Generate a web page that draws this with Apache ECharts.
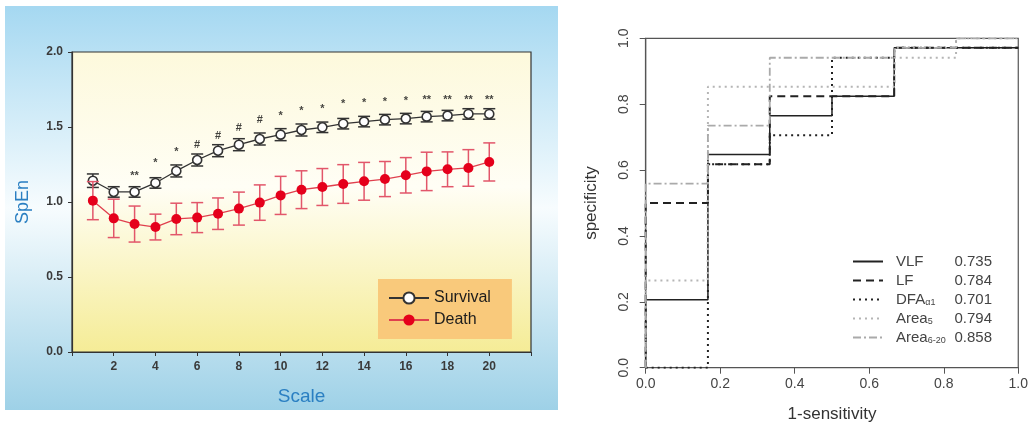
<!DOCTYPE html>
<html>
<head>
<meta charset="utf-8">
<script src="https://cdn.jsdelivr.net/npm/echarts@6/dist/echarts.min.js"></script>
<style>
  html, body { margin: 0; padding: 0; background: #fff; }
  #main { width: 1031px; height: 432px; }
</style>
</head>
<body>
<div id="main"></div>
<script>
// left panel: SpEn by scale
var scales = [1, 2, 3, 4, 5, 6, 7, 8, 9, 10, 11, 12, 13, 14, 15, 16, 17, 18, 19, 20];
var survival = [1.142, 1.067, 1.067, 1.127, 1.207, 1.28, 1.342, 1.382, 1.42, 1.449, 1.48, 1.498, 1.522, 1.536, 1.549, 1.556, 1.569, 1.576, 1.587, 1.587];
var survivalErr = [0.045, 0.035, 0.035, 0.035, 0.04, 0.04, 0.04, 0.04, 0.04, 0.04, 0.04, 0.035, 0.035, 0.035, 0.035, 0.035, 0.035, 0.035, 0.035, 0.035];
var death = [1.009, 0.891, 0.853, 0.833, 0.887, 0.896, 0.922, 0.956, 0.996, 1.044, 1.082, 1.1, 1.12, 1.138, 1.153, 1.178, 1.204, 1.218, 1.227, 1.267];
var deathErr = [0.127, 0.128, 0.12, 0.086, 0.105, 0.1, 0.105, 0.11, 0.118, 0.127, 0.126, 0.123, 0.129, 0.126, 0.117, 0.118, 0.128, 0.116, 0.122, 0.127];
var sigScales = [3, 4, 5, 6, 7, 8, 9, 10, 11, 12, 13, 14, 15, 16, 17, 18, 19, 20];
var sigHeights = [1.196, 1.28, 1.351, 1.4, 1.462, 1.511, 1.567, 1.596, 1.627, 1.642, 1.671, 1.682, 1.687, 1.693, 1.698, 1.702, 1.702, 1.702];
var sigMarks = ['**', '*', '*', '#', '#', '#', '#', '*', '*', '*', '*', '*', '*', '*', '**', '**', '**', '**'];

// right panel: ROC step curves (vertices)
var vlfX = [0, 0, 0.167, 0.167, 0.333, 0.333, 0.5, 0.5, 0.667, 0.667, 1];
var vlfY = [0, 0.206, 0.206, 0.647, 0.647, 0.765, 0.765, 0.824, 0.824, 0.971, 0.971];
var lfX = [0, 0, 0.167, 0.167, 0.333, 0.333, 0.667, 0.667, 1];
var lfY = [0, 0.5, 0.5, 0.618, 0.618, 0.824, 0.824, 0.971, 0.971];
var dfaX = [0, 0.167, 0.167, 0.333, 0.333, 0.5, 0.5, 0.667, 0.667, 1];
var dfaY = [0, 0, 0.618, 0.618, 0.706, 0.706, 0.941, 0.941, 0.971, 0.971];
var area5X = [0, 0, 0.167, 0.167, 0.667, 0.667, 0.833, 0.833, 1];
var area5Y = [0, 0.265, 0.265, 0.853, 0.853, 0.941, 0.941, 1, 1];
var area620X = [0, 0, 0.167, 0.167, 0.333, 0.333, 0.667, 0.667, 0.833, 0.833, 1];
var area620Y = [0, 0.559, 0.559, 0.735, 0.735, 0.941, 0.941, 0.971, 0.971, 1, 1];
var rocNames = ['VLF', 'LF', 'DFAa1', 'Area5', 'Area6-20'];
var rocLabels = ['{n|VLF}', '{n|LF}', '{n|DFA}{s|α1}', '{n|Area}{s|5}', '{n|Area}{s|6-20}'];
var rocAuc = ['0.735', '0.784', '0.701', '0.794', '0.858'];

function pairs(xs, ys) {
  var out = [];
  for (var i = 0; i < xs.length; i++) out.push([xs[i], ys[i]]);
  return out;
}
function bars(vals, errs) {
  var out = [];
  for (var i = 0; i < scales.length; i++) out.push([scales[i], vals[i] - errs[i], vals[i] + errs[i]]);
  return out;
}
function errRender(capW, color) {
  return function (params, api) {
    var x = api.value(0);
    var lo = api.coord([x, api.value(1)]);
    var hi = api.coord([x, api.value(2)]);
    var st = { stroke: color, lineWidth: 1.5 };
    return {
      type: 'group',
      children: [
        { type: 'line', shape: { x1: lo[0], y1: lo[1], x2: hi[0], y2: hi[1] }, style: st },
        { type: 'line', shape: { x1: lo[0] - capW / 2, y1: lo[1], x2: lo[0] + capW / 2, y2: lo[1] }, style: st },
        { type: 'line', shape: { x1: hi[0] - capW / 2, y1: hi[1], x2: hi[0] + capW / 2, y2: hi[1] }, style: st }
      ]
    };
  };
}

var chart = echarts.init(document.getElementById('main'));
var font = 'Liberation Sans, Arial, sans-serif';

chart.setOption({
  backgroundColor: '#fff',
  animation: false,
  graphic: [{
    type: 'rect', z: -10, silent: true,
    shape: { x: 5, y: 6, width: 553, height: 404 },
    style: {
      fill: new echarts.graphic.LinearGradient(0, 0, 0, 1, [
        { offset: 0, color: '#a5d8f1' },
        { offset: 0.5, color: '#f7fcfe' },
        { offset: 1, color: '#9ed1e7' }
      ])
    }
  }],
  legend: [{
    data: ['Survival', 'Death'],
    orient: 'vertical',
    left: 378, top: 279,
    backgroundColor: '#f9c97b',
    padding: [11, 21, 11, 10],
    itemWidth: 40, itemHeight: 14, itemGap: 6,
    textStyle: { fontFamily: font, fontSize: 16, color: '#1c1c1c' },
    selectedMode: false
  }, {
    data: rocNames,
    orient: 'vertical',
    left: 847, top: 249,
    itemWidth: 30, itemHeight: 14, itemGap: 4,
    selectedMode: false,
    itemStyle: { opacity: 0 },
    formatter: function (name) {
      var i = rocNames.indexOf(name);
      return rocLabels[i] + '{v|' + rocAuc[i] + '}';
    },
    textStyle: {
      fontFamily: font, fontSize: 15, color: '#444', width: 104,
      rich: {
        n: { fontFamily: font, fontSize: 15, color: '#444', padding: [0, 0, 0, 8], lineHeight: 15 },
        s: { fontFamily: font, fontSize: 9, color: '#444', verticalAlign: 'bottom', lineHeight: 15, padding: [4, 0, 0, 0] },
        v: { fontFamily: font, fontSize: 15, color: '#444', lineHeight: 15, align: 'right' }
      }
    }
  }],
  grid: [{
    left: 72, top: 52, width: 459, height: 300,
    show: true, borderColor: '#333', borderWidth: 1.2,
    backgroundColor: new echarts.graphic.LinearGradient(0, 0, 0, 1, [
      { offset: 0, color: '#fdf9dc' },
      { offset: 0.45, color: '#fffef5' },
      { offset: 1, color: '#f5ec96' }
    ])
  }, {
    left: 645.7, top: 38.3, width: 376.6, height: 329.4,
    show: true, borderColor: '#555', borderWidth: 1.2
  }],
  xAxis: [{
    gridIndex: 0, type: 'value', min: 0, max: 22, interval: 2,
    name: 'Scale', nameLocation: 'middle', nameGap: 35,
    nameTextStyle: { fontFamily: font, fontSize: 19, color: '#2a7fc2' },
    axisLine: { lineStyle: { color: '#333', width: 1.2 } },
    axisTick: { length: 4, lineStyle: { color: '#333' } },
    axisLabel: {
      fontFamily: font, fontSize: 12, fontWeight: 'bold', color: '#3a3a3a', margin: 9,
      formatter: function (v) { return (v === 0 || v === 22) ? '' : v; }
    },
    splitLine: { show: false }
  }, {
    gridIndex: 1, type: 'value', min: 0, max: 1, interval: 0.2,
    name: '1-sensitivity', nameLocation: 'middle', nameGap: 38,
    nameTextStyle: { fontFamily: font, fontSize: 17, color: '#333' },
    axisLine: { lineStyle: { color: '#555', width: 1.2 } },
    axisTick: { length: 6, lineStyle: { color: '#555' } },
    axisLabel: {
      fontFamily: font, fontSize: 14, color: '#444', margin: 9,
      formatter: function (v) { return v.toFixed(1); }
    },
    splitLine: { show: false }
  }],
  yAxis: [{
    gridIndex: 0, type: 'value', min: 0, max: 2, interval: 0.5,
    name: 'SpEn', nameLocation: 'middle', nameGap: 40,
    nameTextStyle: { fontFamily: font, fontSize: 18, color: '#2a7fc2' },
    axisLine: { lineStyle: { color: '#333', width: 1.2 } },
    axisTick: { length: 4, lineStyle: { color: '#333' } },
    axisLabel: {
      fontFamily: font, fontSize: 12, fontWeight: 'bold', color: '#3a3a3a', margin: 9,
      formatter: function (v) { return v.toFixed(1); }
    },
    splitLine: { show: false }
  }, {
    gridIndex: 1, type: 'value', min: 0, max: 1, interval: 0.2,
    name: 'specificity', nameLocation: 'middle', nameGap: 46,
    nameTextStyle: { fontFamily: font, fontSize: 17, color: '#333' },
    axisLine: { lineStyle: { color: '#555', width: 1.2 } },
    axisTick: { length: 6, lineStyle: { color: '#555' } },
    axisLabel: {
      fontFamily: font, fontSize: 14, color: '#444', margin: 15, rotate: 90,
      formatter: function (v) { return v.toFixed(1); }
    },
    splitLine: { show: false }
  }],
  series: [{
    name: 'survivalErr', type: 'custom', xAxisIndex: 0, yAxisIndex: 0,
    renderItem: errRender(12, '#333'), encode: { x: 0, y: [1, 2] },
    data: bars(survival, survivalErr), z: 2
  }, {
    name: 'Survival', type: 'line', xAxisIndex: 0, yAxisIndex: 0,
    data: pairs(scales, survival), z: 3,
    symbol: 'circle', symbolSize: 9,
    lineStyle: { color: '#333', width: 1.3 },
    itemStyle: { color: '#fff', borderColor: '#333', borderWidth: 1.6 }
  }, {
    name: 'deathErr', type: 'custom', xAxisIndex: 0, yAxisIndex: 0,
    renderItem: errRender(12, '#e2566a'), encode: { x: 0, y: [1, 2] },
    data: bars(death, deathErr), z: 4
  }, {
    name: 'Death', type: 'line', xAxisIndex: 0, yAxisIndex: 0,
    data: pairs(scales, death), z: 5,
    symbol: 'circle', symbolSize: 10,
    lineStyle: { color: '#e0404e', width: 1.3 },
    itemStyle: { color: '#e5001b', borderColor: '#e5001b', borderWidth: 0 }
  }, {
    name: 'sig', type: 'scatter', xAxisIndex: 0, yAxisIndex: 0,
    data: pairs(sigScales, sigHeights), symbolSize: 0, z: 6,
    label: {
      show: true, position: 'inside', offset: [0, 3],
      fontFamily: font, fontSize: 11, fontWeight: 'bold', color: '#111',
      formatter: function (p) { return sigMarks[p.dataIndex]; }
    }
  }, {
    name: 'VLF', type: 'line', xAxisIndex: 1, yAxisIndex: 1, symbol: 'none',
    data: pairs(vlfX, vlfY),
    lineStyle: { color: '#222', width: 1.5, type: 'solid' }, itemStyle: { color: '#222' }
  }, {
    name: 'LF', type: 'line', xAxisIndex: 1, yAxisIndex: 1, symbol: 'none',
    data: pairs(lfX, lfY),
    lineStyle: { color: '#222', width: 2, type: [8, 5] }, itemStyle: { color: '#222' }
  }, {
    name: 'DFAa1', type: 'line', xAxisIndex: 1, yAxisIndex: 1, symbol: 'none',
    data: pairs(dfaX, dfaY),
    lineStyle: { color: '#222', width: 2, type: [2, 4] }, itemStyle: { color: '#222' }
  }, {
    name: 'Area5', type: 'line', xAxisIndex: 1, yAxisIndex: 1, symbol: 'none',
    data: pairs(area5X, area5Y),
    lineStyle: { color: '#b5b5b5', width: 2, type: [2, 4] }, itemStyle: { color: '#b5b5b5' }
  }, {
    name: 'Area6-20', type: 'line', xAxisIndex: 1, yAxisIndex: 1, symbol: 'none',
    data: pairs(area620X, area620Y),
    lineStyle: { color: '#aaa', width: 1.8, type: [8, 3, 2, 3] }, itemStyle: { color: '#aaa' }
  }]
});
</script>
</body>
</html>
